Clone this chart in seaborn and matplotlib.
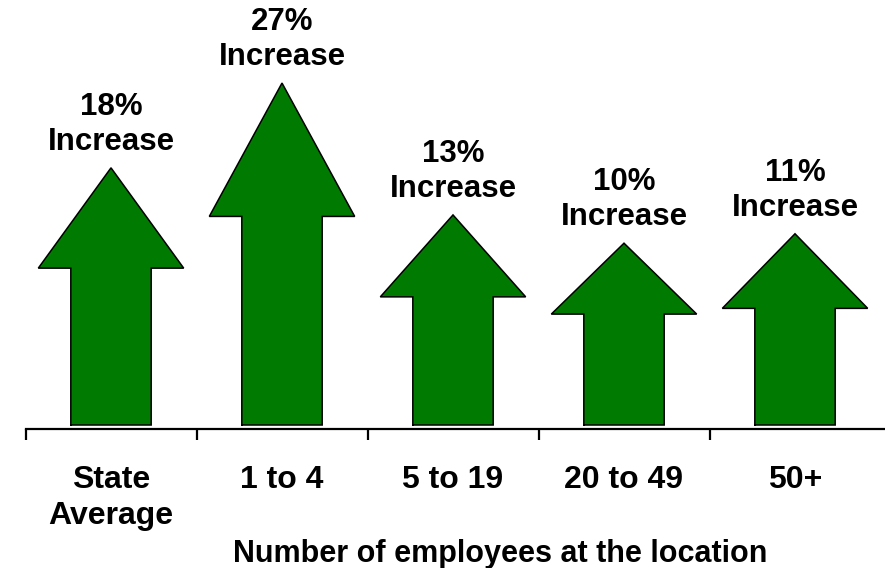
import numpy as np
import pandas as pd
import matplotlib
matplotlib.use("Agg")
import matplotlib.pyplot as plt
import seaborn as sns

# Employment growth by establishment size
categories = ["State\nAverage", "1 to 4", "5 to 19", "20 to 49", "50+"]
increase_pct = [18, 27, 13, 10, 11]
value_labels = [f"{v}%\nIncrease" for v in increase_pct]
x_title = "Number of employees at the location"

sns.set_theme(style="white")
plt.rcParams["font.family"] = ["Liberation Sans", "DejaVu Sans"]
plt.rcParams["font.weight"] = "bold"
plt.rcParams["text.color"] = "black"
plt.rcParams["xtick.color"] = "black"
plt.rcParams["xtick.labelcolor"] = "black"

ARROW_GREEN = "#007A00"
BASE_OFFSET = 9.3   # arrows rise from a baseline drawn below 0 %
HEAD_SHARE = 0.39   # share of an arrow's length taken by its head
SHAFT_W = 0.47
HEAD_W = 0.85
FS_VALUE = 22.5
FS_CAT = 23
FS_TITLE = 22

tips = np.array(increase_pct, dtype=float) + BASE_OFFSET
shafts = tips * (1 - HEAD_SHARE)
df = pd.DataFrame({"group": categories, "shaft": shafts})

fig = plt.figure(figsize=(8.85, 5.68), dpi=100)
ax = fig.add_axes([25.5 / 885, (568 - 429) / 568, 1 - 25.5 / 885, 429 / 568])

# shafts of the arrows
sns.barplot(data=df, x="group", y="shaft", color=ARROW_GREEN, saturation=1,
            width=SHAFT_W, linewidth=0, ax=ax)

# heads and outlines built on each shaft
for bar, tip, lab in zip(ax.patches, tips, value_labels):
    x0 = bar.get_x()
    x1 = x0 + bar.get_width()
    h = bar.get_height()
    cx = (x0 + x1) / 2
    xs = [x0, x0, cx - HEAD_W / 2, cx, cx + HEAD_W / 2, x1, x1, x0]
    ys = [0, h, h, tip, h, h, 0, 0]
    ax.fill(xs, ys, facecolor=ARROW_GREEN, edgecolor="none", zorder=3)
    ax.plot(xs, ys, color="black", lw=1.1, zorder=4, solid_joinstyle="miter")
    ax.annotate(lab, xy=(cx, tip), xytext=(0, 8), textcoords="offset points",
                ha="center", va="bottom", fontsize=FS_VALUE, fontweight="bold",
                color="black", multialignment="center", annotation_clip=False)

ax.set_xlim(-0.5, (885 - 111) / 171)
ax.set_ylim(-4 / 9.42, 425 / 9.42)
ax.set_xlabel("")
ax.set_ylabel("")
ax.set_yticks([])

# boundary ticks between groups, group names at the centres
ax.set_xticks(np.arange(-0.5, 4.0, 1.0))
ax.set_xticklabels([])
ax.set_xticks(np.arange(len(categories)), labels=categories, minor=True)
ax.tick_params(axis="x", which="major", bottom=True, length=8, width=1.6,
               color="black", direction="out")
ax.tick_params(axis="x", which="minor", bottom=True, length=0, pad=26,
               labelsize=FS_CAT, labelcolor="black")
for t in ax.get_xticklabels(minor=True):
    t.set_fontweight("bold")
    t.set_multialignment("center")
    t.set_linespacing(1.25)

for s in ["top", "left", "right"]:
    ax.spines[s].set_visible(False)
ax.spines["bottom"].set_color("black")
ax.spines["bottom"].set_linewidth(1.6)

fig.text(500 / 885, (568 - 562) / 568, x_title, ha="center", va="baseline",
         fontsize=FS_TITLE, fontweight="bold", color="black")

fig.savefig("out.png", dpi=100, facecolor="white")
